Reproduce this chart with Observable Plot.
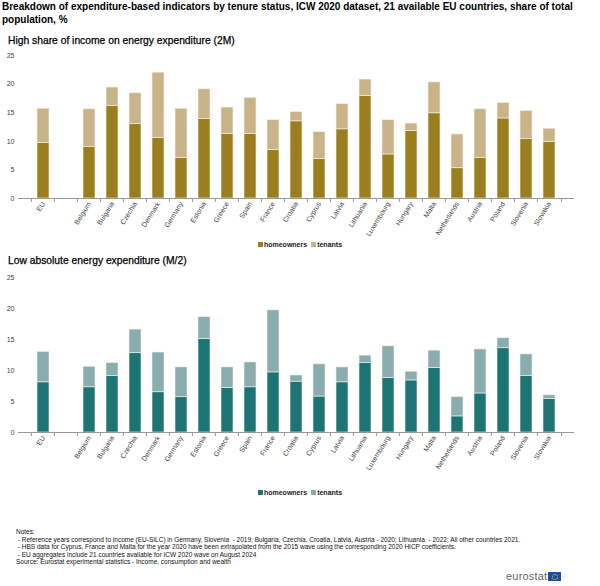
<!DOCTYPE html>
<html>
<head>
<meta charset="utf-8">
<script src="https://cdn.jsdelivr.net/npm/d3@7"></script>
<script src="https://cdn.jsdelivr.net/npm/@observablehq/plot@0.6"></script>
<style>
  html, body { margin: 0; padding: 0; background: #fff; }
  body { width: 600px; height: 586px; position: relative; overflow: hidden; font-family: "Liberation Sans", Arial, sans-serif; color: #000; }
  .abs { position: absolute; }
  #title { left: 2px; top: 1px; width: 596px; font-size: 10px; font-weight: bold; line-height: 12.5px; }
  .sub { left: 8px; font-size: 10.3px; font-weight: normal; -webkit-text-stroke: 0.25px #000; }
  .legend { left: 0; width: 600px; text-align: center; font-size: 7px; font-weight: bold; color: #222; }
  .legend span.sw { display: inline-block; width: 5px; height: 5px; margin-right: 1px; vertical-align: 0px; }
  .legend span.item { margin: 0 2px; }
  #notes { left: 16px; top: 528px; font-size: 6.5px; line-height: 7.6px; color: #111; }
  #logo { left: 506px; top: 570px; font-size: 11px; color: #666; letter-spacing: 0.2px; }
  #flag { display: inline-block; width: 13px; height: 9px; background: #1f4ea3; vertical-align: -1px; margin-left: 1px; position: relative; }
  #flag::after { content: ""; position: absolute; left: 4px; top: 2px; width: 4px; height: 4px; border: 0.8px dotted #f5d20a; border-radius: 50%; }
</style>
</head>
<body>
<div id="title" class="abs">Breakdown of expenditure-based indicators by tenure status, ICW 2020 dataset, 21 available EU countries, share of total population, %</div>
<div id="sub1" class="abs sub" style="top:35px;">High share of income on energy expenditure (2M)</div>
<div id="chart1" class="abs" style="left:0; top:50px;"></div>
<div id="leg1" class="abs legend" style="top:241px;"></div>
<div id="sub2" class="abs sub" style="top:255px;">Low absolute energy expenditure (M/2)</div>
<div id="chart2" class="abs" style="left:0; top:272px;"></div>
<div id="leg2" class="abs legend" style="top:489px;"></div>
<div id="notes" class="abs">Notes:<br>
&nbsp;- Reference years correspond to income (EU-SILC) in Germany, Slovenia&nbsp; - 2019; Bulgaria, Czechia, Croatia, Latvia, Austria - 2020; Lithuania&nbsp; - 2022; All other countries 2021.<br>
&nbsp;- HBS data for Cyprus, France and Malta for the year 2020 have been extrapolated from the 2015 wave using the corresponding 2020 HICP coefficients.<br>
&nbsp;- EU aggregates include 21 countries available for ICW 2020 wave on August 2024<br>
Source: Eurostat experimental statistics - Income, consumption and wealth</div>
<div id="logo" class="abs">eurostat<span id="flag"></span></div>

<script>
// ---- data ----
const countries = ["EU", "Belgium", "Bulgaria", "Czechia", "Denmark", "Germany", "Estonia", "Greece", "Spain", "France", "Croatia", "Cyprus", "Latvia", "Lithuania", "Luxembourg", "Hungary", "Malta", "Netherlands", "Austria", "Poland", "Slovenia", "Slovakia"];
const seriesNames = ["homeowners", "tenants"];
const yTicks = [0, 5, 10, 15, 20, 25];

// High share of income on energy expenditure (2M)
const highShareHomeowners = [9.7, 9.0, 16.2, 13.0, 10.6, 7.1, 13.9, 11.3, 11.3, 8.5, 13.5, 6.9, 12.1, 17.9, 7.7, 11.8, 14.9, 5.3, 7.1, 14.0, 10.4, 9.9];
const highShareTenants    = [6.0, 6.6, 3.2, 5.4, 11.4, 8.6, 5.2, 4.6, 6.3, 5.2, 1.6, 4.7, 4.4, 2.9, 6.0, 1.3, 5.4, 5.9, 8.5, 2.7, 4.9, 2.3];

// Low absolute energy expenditure (M/2)
const lowAbsHomeowners = [8.1, 7.3, 9.1, 12.8, 6.5, 5.7, 15.1, 7.2, 7.3, 9.7, 8.2, 5.8, 8.1, 11.2, 8.8, 8.4, 10.4, 2.6, 6.3, 13.6, 9.1, 5.4];
const lowAbsTenants    = [4.9, 3.3, 2.1, 3.8, 6.4, 4.8, 3.5, 3.3, 4.0, 10.0, 1.0, 5.2, 2.4, 1.2, 5.1, 1.4, 2.8, 3.1, 7.1, 1.6, 3.5, 0.6];

const colors1 = ["#9b7e1e", "#c9b48a"];
const colors2 = ["#1d7474", "#89acac"];

// ---- build ----
const GAP = "\u2009"; // empty slot between EU and the countries
const domain = [countries[0], GAP, ...countries.slice(1)];

function rows(home, ten) {
  const out = [];
  countries.forEach((c, i) => out.push({country: c, series: seriesNames[0], value: home[i]}));
  countries.forEach((c, i) => out.push({country: c, series: seriesNames[1], value: ten[i]}));
  return out;
}

function chart(home, ten, colors, height, marginBottom) {
  const width = 600, ml = 18, mr = 26, mt = 5;
  const step = (width - ml - mr) / domain.length;
  const plotH = height - mt - marginBottom;
  const tickLen = 4 * 25 / plotH;
  return Plot.plot({
    width, height,
    marginLeft: ml, marginRight: mr, marginTop: mt, marginBottom,
    style: {fontFamily: "Liberation Sans, Arial, sans-serif", fontSize: "7px", color: "#444", background: "#fff"},
    x: {domain, padding: 0.46, label: null},
    y: {domain: [0, 25], ticks: yTicks, label: null},
    color: {domain: seriesNames, range: colors},
    marks: [
      Plot.ruleY(yTicks.slice(1), {stroke: "#e2e2e2", strokeWidth: 1, x1: 0}),
      Plot.barY(rows(home, ten), {x: "country", y: "value", fill: "series", stroke: "#f4f0e6", strokeWidth: 0.8, strokeOpacity: 0.8}),
      Plot.ruleY([0], {stroke: "#999", strokeWidth: 1}),
      Plot.ruleX(domain, {x: d => d, dx: -step / 2, y1: 0, y2: -tickLen, stroke: "#999"}),
      Plot.ruleX([domain[domain.length - 1]], {x: d => d, dx: step / 2, y1: 0, y2: -tickLen, stroke: "#999"}),
      Plot.axisY({ticks: yTicks, tickSize: 0, tickPadding: 4, anchor: "left", fill: "#444"}),
      Plot.axisX({ticks: countries, tickSize: 0, tickPadding: 4, tickRotate: -58, fill: "#444", label: null})
    ]
  });
}

document.getElementById("chart1").append(chart(highShareHomeowners, highShareTenants, colors1, 188, 40));
document.getElementById("chart2").append(chart(lowAbsHomeowners, lowAbsTenants, colors2, 200, 40));

function legend(el, colors) {
  el.innerHTML = seriesNames.map((s, i) =>
    `<span class="item"><span class="sw" style="background:${colors[i]}"></span>${s}</span>`).join("");
}
legend(document.getElementById("leg1"), colors1);
legend(document.getElementById("leg2"), colors2);
</script>
</body>
</html>
